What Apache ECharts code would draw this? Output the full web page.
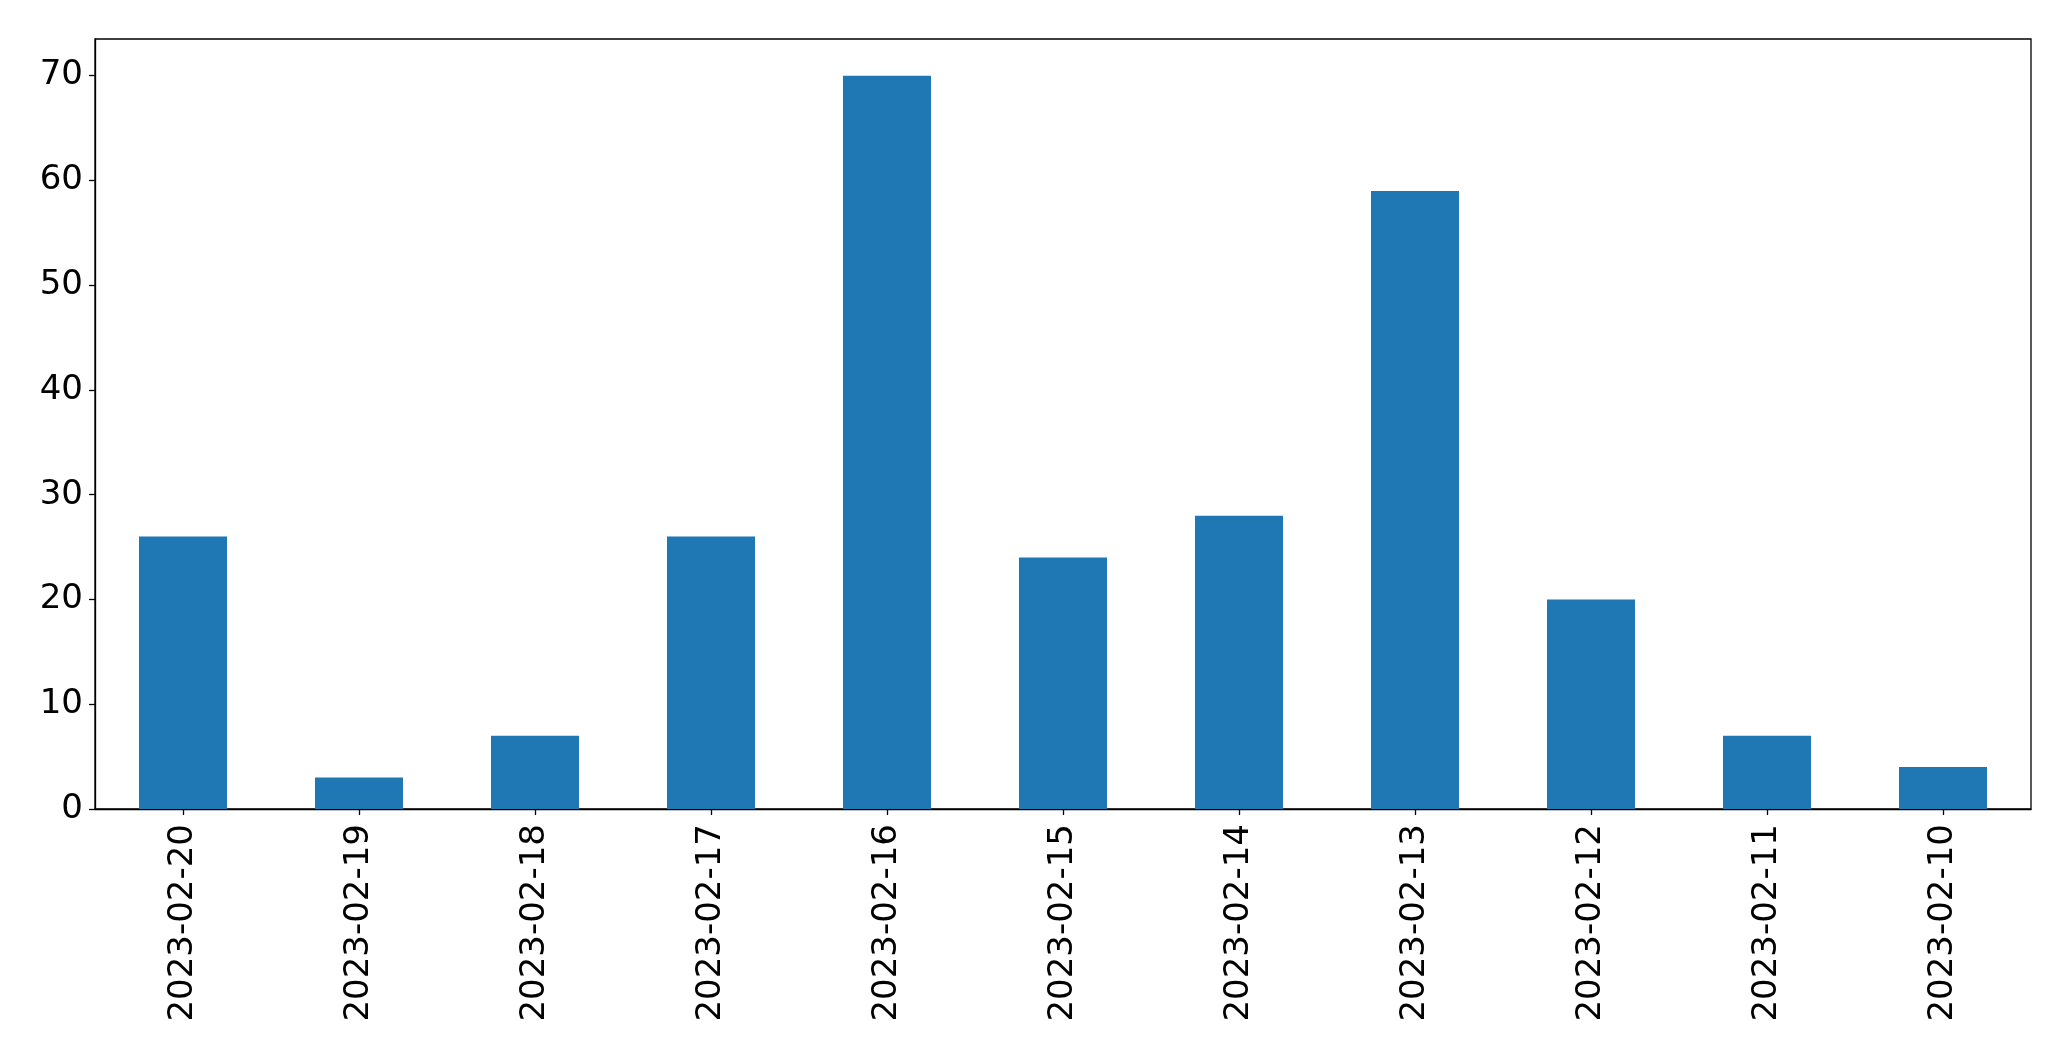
<!DOCTYPE html>
<html><head><meta charset="utf-8">
<script src="https://cdn.jsdelivr.net/npm/echarts@6/dist/echarts.min.js"></script>
<style>html,body{margin:0;padding:0;background:#fff}#c{width:2071px;height:1061px}</style>
</head><body><div id="c"></div>
<script>
const categories = ["2023-02-20","2023-02-19","2023-02-18","2023-02-17","2023-02-16","2023-02-15","2023-02-14","2023-02-13","2023-02-12","2023-02-11","2023-02-10"];
const values = [26, 3, 7, 26, 70, 24, 28, 59, 20, 7, 4];
const yTicks = [0, 10, 20, 30, 40, 50, 60, 70];

const chart = echarts.init(document.getElementById('c'), null, {renderer: 'canvas'});
const font = 'DejaVu Sans';
chart.setOption({
  animation: false,
  backgroundColor: '#fff',
  grid: {left: 95, right: 40, top: 39, bottom: 252, show: true, borderColor: '#000', borderWidth: 1.3, backgroundColor: 'transparent'},
  xAxis: {
    type: 'category', data: categories, boundaryGap: true,
    axisLine: {show: true, lineStyle: {color: '#000', width: 1.3}},
    axisTick: {show: true, alignWithLabel: true, length: 6, lineStyle: {color: '#000', width: 1.3}},
    axisLabel: {rotate: 90, fontFamily: font, fontSize: 34, color: '#000', margin: 15, interval: 0}
  },
  yAxis: {
    type: 'value', min: 0, max: 73.5,
    splitLine: {show: false},
    axisLine: {show: true, lineStyle: {color: '#000', width: 1.3}},
    axisTick: {show: true, length: 6, customValues: yTicks, lineStyle: {color: '#000', width: 1.3}},
    axisLabel: {fontFamily: font, fontSize: 34, color: '#000', margin: 12, customValues: yTicks}
  },
  series: [{type: 'bar', data: values, barWidth: '50%', itemStyle: {color: '#1f77b4'}}]
});
</script></body></html>
